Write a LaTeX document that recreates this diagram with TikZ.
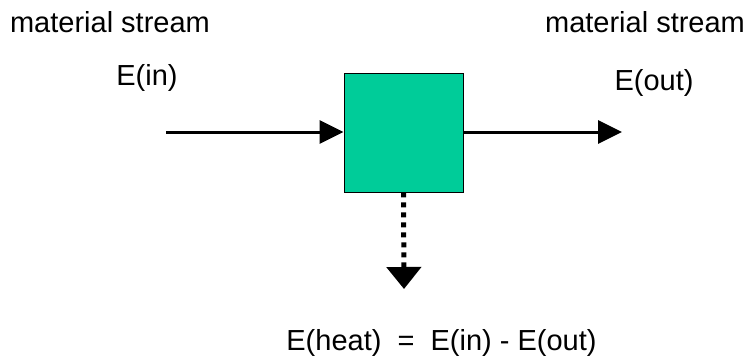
\documentclass[tikz,border=0pt]{standalone}
\usepackage{fontspec}
\setmainfont{Liberation Sans}
\usepackage{xcolor}
\usepackage{tikz}
\usetikzlibrary{arrows.meta,positioning}
\definecolor{unitgreen}{RGB}{0,204,153}
\tikzset{
  unit/.style={draw=black, line width=0.8pt, fill=unitgreen, minimum size=119pt, inner sep=0pt},
  lbl/.style={anchor=base, inner sep=0pt, font=\fontsize{29}{31}\selectfont},
  flow/.style={-{Triangle[length=24pt,width=23pt]}, line width=3pt},
  heat/.style={-{Triangle[length=22pt,width=34pt]}, line width=5pt, dash pattern=on 5pt off 5pt},
}
\begin{document}
\begin{tikzpicture}[x=1pt,y=1pt]
  \useasboundingbox (0,0) rectangle (749,360);
  % process unit
  \node[unit] (box) at (403.5,227.5) {};
  \coordinate (in) at (166,228);
  \coordinate (out) at (622,228);
  \coordinate (down) at (404,71);
  % streams
  \draw[flow] (in) -- (box.west |- in);
  \draw[flow] (box.east |- out) -- (out);
  \draw[heat] (box.south) -- (down);
  % labels
  \node[lbl] (ms-in) at (110,328) {material stream};
  \node[lbl] (ms-out) at (645,328) {material stream};
  \node[lbl] (e-in) at (147,275) {E(in)};
  \node[lbl] (e-out) at (654,270) {E(out)};
  \node[lbl] (e-heat) at (441.5,10) {E(heat)\ \ =\ \ E(in) - E(out)};
\end{tikzpicture}
\end{document}
